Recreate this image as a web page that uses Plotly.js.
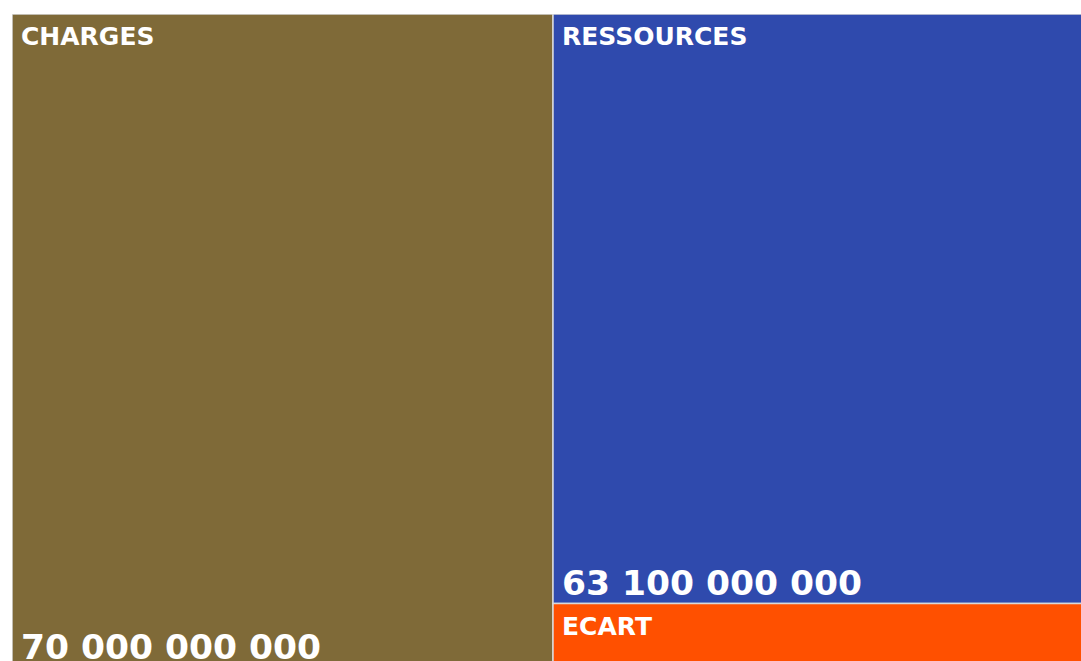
<!DOCTYPE html>
<html>
<head>
<meta charset="utf-8">
<script src="https://cdn.plot.ly/plotly-3.0.1.min.js"></script>
<style>
  html, body { margin: 0; padding: 0; overflow: hidden; background: #ffffff; }
  #chart { width: 1094px; height: 668px; }
</style>
</head>
<body>
<div id="chart"></div>
<script>
// ---- data ----
const categories = ['CHARGES', 'RESSOURCES', 'ECART'];
const values = [70000000000, 63100000000, 6900000000];
const columns = [0, 1, 1];          // which column of the tile each block sits in
const stackBase = [0, 6900000000, 0]; // ECART sits under RESSOURCES
const colors = ['#7F6A38', '#2F4AAD', '#FF5000'];

function fmt(v) {
  return String(Math.round(v)).replace(/\B(?=(\d{3})+(?!\d))/g, ' ');
}

const total = Math.max.apply(null, values.map((v, i) => v + stackBase[i]));

const trace = {
  type: 'bar',
  x: columns,
  y: values,
  base: stackBase,
  width: 1,
  marker: { color: colors, line: { color: '#D9D9D9', width: 1.5 } },
  hoverinfo: 'skip',
  showlegend: false
};

const annotations = [];
categories.forEach((c, i) => {
  annotations.push({
    xref: 'x', yref: 'y',
    x: columns[i] - 0.5, y: stackBase[i] + values[i],
    xanchor: 'left', yanchor: 'top',
    xshift: 7, yshift: -6,
    text: '<b>' + c + '</b>',
    showarrow: false,
    font: { family: 'DejaVu Sans, Verdana, sans-serif', size: 25, color: '#ffffff' }
  });
  if (values[i] / total > 0.2) {
    annotations.push({
      xref: 'x', yref: 'y',
      x: columns[i] - 0.5, y: stackBase[i],
      xanchor: 'left', yanchor: 'bottom',
      xshift: 7, yshift: -1,
      text: '<b>' + fmt(values[i]) + '</b>',
      showarrow: false,
      font: { family: 'DejaVu Sans, Verdana, sans-serif', size: 34.5, color: '#ffffff' }
    });
  }
});

const layout = {
  width: 1094, height: 668,
  margin: { l: 12, r: 0, t: 14, b: 0, pad: 0 },
  paper_bgcolor: '#ffffff', plot_bgcolor: '#ffffff',
  barmode: 'overlay',
  xaxis: { range: [-0.5, 1.5], visible: false, fixedrange: true },
  yaxis: { range: [0, total], visible: false, fixedrange: true },
  annotations: annotations
};

Plotly.newPlot('chart', [trace], layout, { staticPlot: true, displayModeBar: false });
</script>
</body>
</html>
